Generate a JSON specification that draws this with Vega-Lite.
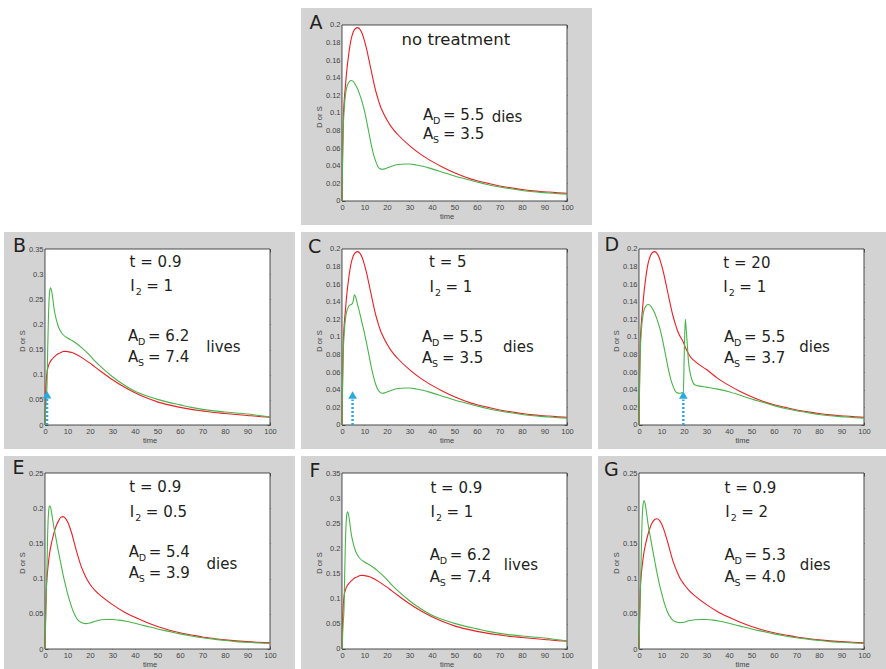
{
"$schema":"https://vega.github.io/schema/vega-lite/v6.json",
"padding":{"left":4,"top":8,"right":0,"bottom":0},
"background":"white",
"config":{
 "view":{"fill":"#d3d3d3","stroke":null},
 "axis":{"domain":false,"grid":false,"tickSize":-3,"tickColor":"#333","tickWidth":0.7,"labelFont":"Liberation Sans","labelFontSize":7.5,"labelColor":"#444","labelPadding":5,"labelFlush":false,"labelOverlap":false,"titleFont":"Liberation Sans","titleFontSize":7.5,"titleFontWeight":"normal","titleColor":"#444","titlePadding":2}
},
"datasets":{
"frame":[{"p":"A","t":0,"t2":100,"v":0,"v2":0.2},{"p":"B","t":0,"t2":100,"v":0,"v2":0.35},{"p":"C","t":0,"t2":100,"v":0,"v2":0.2},{"p":"D","t":0,"t2":100,"v":0,"v2":0.2},{"p":"E","t":0,"t2":100,"v":0,"v2":0.25},{"p":"F","t":0,"t2":100,"v":0,"v2":0.35},{"p":"G","t":0,"t2":100,"v":0,"v2":0.25}],
"arr":[{"p":"B","k":"line","t":0.9,"v":0,"v2":0.053},{"p":"B","k":"head","t":0.9,"v":0.06},{"p":"C","k":"line","t":4.7,"v":0,"v2":0.029},{"p":"C","k":"head","t":4.7,"v":0.034},{"p":"D","k":"line","t":19.7,"v":0,"v2":0.029},{"p":"D","k":"head","t":19.7,"v":0.034}],
"ann":[
{"p":"A","k":"N","t":26.5,"v":0.177,"b":"no treatment"},
{"p":"A","k":"A","t":36,"v":0.0924,"b":"A","sb":"D","r":"= 5.5"},
{"p":"A","k":"A","t":36,"v":0.0707,"b":"A","sb":"S","r":"= 3.5"},
{"p":"A","k":"P","t":66.5,"v":0.0898,"b":"dies"},
{"p":"A","k":"L","t":-14.4,"v":0.196,"b":"A"},
{"p":"B","k":"P","t":37.6,"v":0.315,"b":"t = 0.9"},
{"p":"B","k":"I","t":37.9,"v":0.267,"b":"I","sb":"2","r":"= 1"},
{"p":"B","k":"A","t":36.9,"v":0.167,"b":"A","sb":"D","r":"= 6.2"},
{"p":"B","k":"A","t":36.9,"v":0.1247,"b":"A","sb":"S","r":"= 7.4"},
{"p":"B","k":"P","t":71.7,"v":0.146,"b":"lives"},
{"p":"B","k":"L","t":-14.2,"v":0.345,"b":"B"},
{"p":"C","k":"P","t":38.7,"v":0.179,"b":"t = 5"},
{"p":"C","k":"I","t":38.9,"v":0.1516,"b":"I","sb":"2","r":"= 1"},
{"p":"C","k":"A","t":35.6,"v":0.0945,"b":"A","sb":"D","r":"= 5.5"},
{"p":"C","k":"A","t":35.6,"v":0.0703,"b":"A","sb":"S","r":"= 3.5"},
{"p":"C","k":"P","t":71.6,"v":0.0828,"b":"dies"},
{"p":"C","k":"L","t":-15.1,"v":0.196,"b":"C"},
{"p":"D","k":"P","t":37.5,"v":0.1785,"b":"t = 20"},
{"p":"D","k":"I","t":37.5,"v":0.151,"b":"I","sb":"2","r":"= 1"},
{"p":"D","k":"A","t":37.8,"v":0.0942,"b":"A","sb":"D","r":"= 5.5"},
{"p":"D","k":"A","t":37.8,"v":0.07,"b":"A","sb":"S","r":"= 3.7"},
{"p":"D","k":"P","t":71.2,"v":0.0826,"b":"dies"},
{"p":"D","k":"L","t":-15.3,"v":0.198,"b":"D"},
{"p":"E","k":"P","t":37.5,"v":0.223,"b":"t = 0.9"},
{"p":"E","k":"I","t":37.7,"v":0.187,"b":"I","sb":"2","r":"= 0.5"},
{"p":"E","k":"A","t":37.2,"v":0.13,"b":"A","sb":"D","r":"= 5.4"},
{"p":"E","k":"A","t":37.2,"v":0.1005,"b":"A","sb":"S","r":"= 3.9"},
{"p":"E","k":"P","t":71.8,"v":0.114,"b":"dies"},
{"p":"E","k":"L","t":-14.4,"v":0.248,"b":"E"},
{"p":"F","k":"P","t":39.3,"v":0.31,"b":"t = 0.9"},
{"p":"F","k":"I","t":39.3,"v":0.2627,"b":"I","sb":"2","r":"= 1"},
{"p":"F","k":"A","t":39,"v":0.176,"b":"A","sb":"D","r":"= 6.2"},
{"p":"F","k":"A","t":39,"v":0.134,"b":"A","sb":"S","r":"= 7.4"},
{"p":"F","k":"P","t":71.9,"v":0.158,"b":"lives"},
{"p":"F","k":"L","t":-14.4,"v":0.343,"b":"F"},
{"p":"G","k":"P","t":38,"v":0.221,"b":"t = 0.9"},
{"p":"G","k":"I","t":38.3,"v":0.187,"b":"I","sb":"2","r":"= 2"},
{"p":"G","k":"A","t":38,"v":0.126,"b":"A","sb":"D","r":"= 5.3"},
{"p":"G","k":"A","t":38,"v":0.0954,"b":"A","sb":"S","r":"= 4.0"},
{"p":"G","k":"P","t":71.5,"v":0.1125,"b":"dies"},
{"p":"G","k":"L","t":-15.6,"v":0.246,"b":"G"}
],
"a":[
{"s":"D","t":0,"v":0},{"s":"D","t":0.3,"v":0.06},{"s":"D","t":0.6,"v":0.095},{"s":"D","t":1,"v":0.115},{"s":"D","t":1.5,"v":0.13},{"s":"D","t":2,"v":0.145},{"s":"D","t":3,"v":0.167},{"s":"D","t":4,"v":0.183},{"s":"D","t":5,"v":0.192},{"s":"D","t":6,"v":0.196},{"s":"D","t":7,"v":0.197},{"s":"D","t":8,"v":0.195},{"s":"D","t":9,"v":0.19},{"s":"D","t":10,"v":0.182},{"s":"D","t":11,"v":0.172},{"s":"D","t":12,"v":0.16},{"s":"D","t":13,"v":0.148},{"s":"D","t":14,"v":0.136},{"s":"D","t":15,"v":0.125},{"s":"D","t":16,"v":0.116},{"s":"D","t":17,"v":0.108},{"s":"D","t":18,"v":0.102},{"s":"D","t":20,"v":0.092},{"s":"D","t":22,"v":0.084},{"s":"D","t":25,"v":0.075},{"s":"D","t":30,"v":0.063},{"s":"D","t":35,"v":0.053},{"s":"D","t":40,"v":0.045},{"s":"D","t":45,"v":0.038},{"s":"D","t":50,"v":0.032},{"s":"D","t":55,"v":0.027},{"s":"D","t":60,"v":0.023},{"s":"D","t":65,"v":0.02},{"s":"D","t":70,"v":0.017},{"s":"D","t":75,"v":0.015},{"s":"D","t":80,"v":0.013},{"s":"D","t":85,"v":0.0115},{"s":"D","t":90,"v":0.0105},{"s":"D","t":95,"v":0.0095},{"s":"D","t":100,"v":0.0088},
{"s":"S","t":0,"v":0},{"s":"S","t":0.3,"v":0.05},{"s":"S","t":0.6,"v":0.085},{"s":"S","t":1,"v":0.105},{"s":"S","t":1.5,"v":0.12},{"s":"S","t":2,"v":0.128},{"s":"S","t":3,"v":0.135},{"s":"S","t":4,"v":0.137},{"s":"S","t":5,"v":0.136},{"s":"S","t":6,"v":0.132},{"s":"S","t":7,"v":0.127},{"s":"S","t":8,"v":0.12},{"s":"S","t":9,"v":0.112},{"s":"S","t":10,"v":0.102},{"s":"S","t":11,"v":0.09},{"s":"S","t":12,"v":0.077},{"s":"S","t":13,"v":0.064},{"s":"S","t":14,"v":0.053},{"s":"S","t":15,"v":0.045},{"s":"S","t":16,"v":0.039},{"s":"S","t":17,"v":0.0365},{"s":"S","t":18,"v":0.036},{"s":"S","t":19,"v":0.0365},{"s":"S","t":20,"v":0.0375},{"s":"S","t":22,"v":0.0395},{"s":"S","t":25,"v":0.0415},{"s":"S","t":28,"v":0.042},{"s":"S","t":30,"v":0.042},{"s":"S","t":33,"v":0.041},{"s":"S","t":36,"v":0.0395},{"s":"S","t":40,"v":0.0365},{"s":"S","t":45,"v":0.0325},{"s":"S","t":50,"v":0.0285},{"s":"S","t":55,"v":0.025},{"s":"S","t":60,"v":0.0215},{"s":"S","t":65,"v":0.0185},{"s":"S","t":70,"v":0.016},{"s":"S","t":75,"v":0.014},{"s":"S","t":80,"v":0.012},{"s":"S","t":85,"v":0.0105},{"s":"S","t":90,"v":0.0095},{"s":"S","t":95,"v":0.0085},{"s":"S","t":100,"v":0.0078}
],
"cS":[
{"s":"S","t":0,"v":0},{"s":"S","t":0.3,"v":0.05},{"s":"S","t":0.6,"v":0.085},{"s":"S","t":1,"v":0.105},{"s":"S","t":1.5,"v":0.12},{"s":"S","t":2,"v":0.128},{"s":"S","t":3,"v":0.135},{"s":"S","t":4,"v":0.137},{"s":"S","t":4.6,"v":0.138},{"s":"S","t":5,"v":0.141},{"s":"S","t":5.5,"v":0.148},{"s":"S","t":6,"v":0.146},{"s":"S","t":7,"v":0.136},{"s":"S","t":8,"v":0.126},{"s":"S","t":9,"v":0.115},{"s":"S","t":10,"v":0.104},{"s":"S","t":11,"v":0.092},{"s":"S","t":12,"v":0.079},{"s":"S","t":13,"v":0.066},{"s":"S","t":14,"v":0.055},{"s":"S","t":15,"v":0.046},{"s":"S","t":16,"v":0.04},{"s":"S","t":17,"v":0.037},{"s":"S","t":18,"v":0.036},{"s":"S","t":19,"v":0.0365},{"s":"S","t":20,"v":0.0375},{"s":"S","t":22,"v":0.0395},{"s":"S","t":25,"v":0.0415},{"s":"S","t":28,"v":0.042},{"s":"S","t":30,"v":0.042},{"s":"S","t":33,"v":0.041},{"s":"S","t":36,"v":0.0395},{"s":"S","t":40,"v":0.0365},{"s":"S","t":45,"v":0.0325},{"s":"S","t":50,"v":0.0285},{"s":"S","t":55,"v":0.025},{"s":"S","t":60,"v":0.0215},{"s":"S","t":65,"v":0.0185},{"s":"S","t":70,"v":0.016},{"s":"S","t":75,"v":0.014},{"s":"S","t":80,"v":0.012},{"s":"S","t":85,"v":0.0105},{"s":"S","t":90,"v":0.0095},{"s":"S","t":95,"v":0.0085},{"s":"S","t":100,"v":0.0078}
],
"d":[
{"s":"D","t":0,"v":0},{"s":"D","t":0.3,"v":0.06},{"s":"D","t":0.6,"v":0.095},{"s":"D","t":1,"v":0.115},{"s":"D","t":1.5,"v":0.13},{"s":"D","t":2,"v":0.145},{"s":"D","t":3,"v":0.167},{"s":"D","t":4,"v":0.183},{"s":"D","t":5,"v":0.192},{"s":"D","t":6,"v":0.196},{"s":"D","t":7,"v":0.197},{"s":"D","t":8,"v":0.195},{"s":"D","t":9,"v":0.19},{"s":"D","t":10,"v":0.182},{"s":"D","t":11,"v":0.172},{"s":"D","t":12,"v":0.16},{"s":"D","t":13,"v":0.148},{"s":"D","t":14,"v":0.136},{"s":"D","t":15,"v":0.125},{"s":"D","t":16,"v":0.116},{"s":"D","t":17,"v":0.108},{"s":"D","t":18,"v":0.102},{"s":"D","t":19.7,"v":0.094},{"s":"D","t":20.5,"v":0.089},{"s":"D","t":21,"v":0.086},{"s":"D","t":22,"v":0.081},{"s":"D","t":23,"v":0.077},{"s":"D","t":25,"v":0.072},{"s":"D","t":30,"v":0.063},{"s":"D","t":35,"v":0.053},{"s":"D","t":40,"v":0.045},{"s":"D","t":45,"v":0.038},{"s":"D","t":50,"v":0.032},{"s":"D","t":55,"v":0.027},{"s":"D","t":60,"v":0.023},{"s":"D","t":65,"v":0.02},{"s":"D","t":70,"v":0.017},{"s":"D","t":75,"v":0.015},{"s":"D","t":80,"v":0.013},{"s":"D","t":85,"v":0.0115},{"s":"D","t":90,"v":0.0105},{"s":"D","t":95,"v":0.0095},{"s":"D","t":100,"v":0.0088},
{"s":"S","t":0,"v":0},{"s":"S","t":0.3,"v":0.05},{"s":"S","t":0.6,"v":0.085},{"s":"S","t":1,"v":0.105},{"s":"S","t":1.5,"v":0.12},{"s":"S","t":2,"v":0.128},{"s":"S","t":3,"v":0.135},{"s":"S","t":4,"v":0.137},{"s":"S","t":5,"v":0.136},{"s":"S","t":6,"v":0.132},{"s":"S","t":7,"v":0.127},{"s":"S","t":8,"v":0.12},{"s":"S","t":9,"v":0.112},{"s":"S","t":10,"v":0.102},{"s":"S","t":11,"v":0.09},{"s":"S","t":12,"v":0.077},{"s":"S","t":13,"v":0.064},{"s":"S","t":14,"v":0.053},{"s":"S","t":15,"v":0.045},{"s":"S","t":16,"v":0.039},{"s":"S","t":17,"v":0.0365},{"s":"S","t":18,"v":0.036},{"s":"S","t":19,"v":0.0365},{"s":"S","t":19.7,"v":0.0368},{"s":"S","t":20.1,"v":0.08},{"s":"S","t":20.6,"v":0.12},{"s":"S","t":21,"v":0.108},{"s":"S","t":21.5,"v":0.09},{"s":"S","t":22,"v":0.072},{"s":"S","t":23,"v":0.056},{"s":"S","t":24,"v":0.048},{"s":"S","t":25,"v":0.0455},{"s":"S","t":27,"v":0.0442},{"s":"S","t":30,"v":0.043},{"s":"S","t":35,"v":0.0408},{"s":"S","t":40,"v":0.0378},{"s":"S","t":45,"v":0.0338},{"s":"S","t":50,"v":0.0295},{"s":"S","t":55,"v":0.0258},{"s":"S","t":60,"v":0.022},{"s":"S","t":65,"v":0.0188},{"s":"S","t":70,"v":0.0162},{"s":"S","t":75,"v":0.014},{"s":"S","t":80,"v":0.012},{"s":"S","t":85,"v":0.0105},{"s":"S","t":90,"v":0.0095},{"s":"S","t":95,"v":0.0085},{"s":"S","t":100,"v":0.0078}
],
"bf":[
{"s":"D","t":0,"v":0},{"s":"D","t":0.3,"v":0.06},{"s":"D","t":0.6,"v":0.09},{"s":"D","t":1,"v":0.108},{"s":"D","t":1.5,"v":0.117},{"s":"D","t":2,"v":0.123},{"s":"D","t":3,"v":0.13},{"s":"D","t":4,"v":0.135},{"s":"D","t":5,"v":0.139},{"s":"D","t":6,"v":0.142},{"s":"D","t":7,"v":0.144},{"s":"D","t":8,"v":0.146},{"s":"D","t":9,"v":0.1465},{"s":"D","t":10,"v":0.146},{"s":"D","t":12,"v":0.144},{"s":"D","t":14,"v":0.14},{"s":"D","t":16,"v":0.135},{"s":"D","t":18,"v":0.129},{"s":"D","t":20,"v":0.123},{"s":"D","t":22,"v":0.116},{"s":"D","t":25,"v":0.106},{"s":"D","t":30,"v":0.09},{"s":"D","t":35,"v":0.076},{"s":"D","t":40,"v":0.064},{"s":"D","t":45,"v":0.054},{"s":"D","t":50,"v":0.046},{"s":"D","t":55,"v":0.04},{"s":"D","t":60,"v":0.035},{"s":"D","t":65,"v":0.031},{"s":"D","t":70,"v":0.028},{"s":"D","t":75,"v":0.025},{"s":"D","t":80,"v":0.023},{"s":"D","t":85,"v":0.021},{"s":"D","t":90,"v":0.019},{"s":"D","t":95,"v":0.017},{"s":"D","t":100,"v":0.0155},
{"s":"S","t":0,"v":0},{"s":"S","t":0.5,"v":0.05},{"s":"S","t":0.9,"v":0.08},{"s":"S","t":1.2,"v":0.15},{"s":"S","t":1.5,"v":0.21},{"s":"S","t":2,"v":0.262},{"s":"S","t":2.4,"v":0.273},{"s":"S","t":3,"v":0.265},{"s":"S","t":3.5,"v":0.25},{"s":"S","t":4,"v":0.232},{"s":"S","t":5,"v":0.21},{"s":"S","t":6,"v":0.195},{"s":"S","t":7,"v":0.186},{"s":"S","t":8,"v":0.18},{"s":"S","t":10,"v":0.173},{"s":"S","t":12,"v":0.168},{"s":"S","t":14,"v":0.162},{"s":"S","t":16,"v":0.155},{"s":"S","t":18,"v":0.147},{"s":"S","t":20,"v":0.138},{"s":"S","t":22,"v":0.128},{"s":"S","t":25,"v":0.115},{"s":"S","t":30,"v":0.096},{"s":"S","t":35,"v":0.08},{"s":"S","t":40,"v":0.067},{"s":"S","t":45,"v":0.058},{"s":"S","t":50,"v":0.051},{"s":"S","t":55,"v":0.045},{"s":"S","t":60,"v":0.04},{"s":"S","t":65,"v":0.035},{"s":"S","t":70,"v":0.031},{"s":"S","t":75,"v":0.028},{"s":"S","t":80,"v":0.026},{"s":"S","t":85,"v":0.024},{"s":"S","t":90,"v":0.022},{"s":"S","t":95,"v":0.019},{"s":"S","t":100,"v":0.0165}
],
"e":[
{"s":"D","t":0,"v":0},{"s":"D","t":0.3,"v":0.05},{"s":"D","t":0.6,"v":0.085},{"s":"D","t":1,"v":0.105},{"s":"D","t":1.5,"v":0.122},{"s":"D","t":2,"v":0.135},{"s":"D","t":3,"v":0.152},{"s":"D","t":4,"v":0.165},{"s":"D","t":5,"v":0.175},{"s":"D","t":6,"v":0.182},{"s":"D","t":7,"v":0.187},{"s":"D","t":8,"v":0.188},{"s":"D","t":9,"v":0.186},{"s":"D","t":10,"v":0.181},{"s":"D","t":11,"v":0.173},{"s":"D","t":12,"v":0.163},{"s":"D","t":13,"v":0.151},{"s":"D","t":14,"v":0.139},{"s":"D","t":15,"v":0.128},{"s":"D","t":16,"v":0.118},{"s":"D","t":17,"v":0.11},{"s":"D","t":18,"v":0.103},{"s":"D","t":20,"v":0.092},{"s":"D","t":22,"v":0.084},{"s":"D","t":25,"v":0.075},{"s":"D","t":30,"v":0.063},{"s":"D","t":35,"v":0.053},{"s":"D","t":40,"v":0.045},{"s":"D","t":45,"v":0.038},{"s":"D","t":50,"v":0.032},{"s":"D","t":55,"v":0.027},{"s":"D","t":60,"v":0.023},{"s":"D","t":65,"v":0.02},{"s":"D","t":70,"v":0.017},{"s":"D","t":75,"v":0.015},{"s":"D","t":80,"v":0.013},{"s":"D","t":85,"v":0.0115},{"s":"D","t":90,"v":0.0105},{"s":"D","t":95,"v":0.0095},{"s":"D","t":100,"v":0.0088},
{"s":"S","t":0,"v":0},{"s":"S","t":0.5,"v":0.07},{"s":"S","t":0.9,"v":0.12},{"s":"S","t":1.2,"v":0.165},{"s":"S","t":1.6,"v":0.195},{"s":"S","t":2,"v":0.203},{"s":"S","t":2.4,"v":0.202},{"s":"S","t":3,"v":0.192},{"s":"S","t":4,"v":0.172},{"s":"S","t":5,"v":0.155},{"s":"S","t":6,"v":0.138},{"s":"S","t":7,"v":0.122},{"s":"S","t":8,"v":0.106},{"s":"S","t":9,"v":0.092},{"s":"S","t":10,"v":0.079},{"s":"S","t":11,"v":0.068},{"s":"S","t":12,"v":0.058},{"s":"S","t":13,"v":0.05},{"s":"S","t":14,"v":0.044},{"s":"S","t":15,"v":0.04},{"s":"S","t":16,"v":0.038},{"s":"S","t":17,"v":0.0365},{"s":"S","t":18,"v":0.036},{"s":"S","t":20,"v":0.037},{"s":"S","t":22,"v":0.039},{"s":"S","t":25,"v":0.0415},{"s":"S","t":28,"v":0.042},{"s":"S","t":30,"v":0.042},{"s":"S","t":33,"v":0.041},{"s":"S","t":36,"v":0.0395},{"s":"S","t":40,"v":0.0365},{"s":"S","t":45,"v":0.0325},{"s":"S","t":50,"v":0.0285},{"s":"S","t":55,"v":0.025},{"s":"S","t":60,"v":0.0215},{"s":"S","t":65,"v":0.0185},{"s":"S","t":70,"v":0.016},{"s":"S","t":75,"v":0.014},{"s":"S","t":80,"v":0.012},{"s":"S","t":85,"v":0.0105},{"s":"S","t":90,"v":0.0095},{"s":"S","t":95,"v":0.0085},{"s":"S","t":100,"v":0.0078}
],
"g":[
{"s":"D","t":0,"v":0},{"s":"D","t":0.3,"v":0.05},{"s":"D","t":0.6,"v":0.085},{"s":"D","t":1,"v":0.105},{"s":"D","t":1.5,"v":0.12},{"s":"D","t":2,"v":0.133},{"s":"D","t":3,"v":0.15},{"s":"D","t":4,"v":0.163},{"s":"D","t":5,"v":0.173},{"s":"D","t":6,"v":0.18},{"s":"D","t":7,"v":0.184},{"s":"D","t":8,"v":0.185},{"s":"D","t":9,"v":0.183},{"s":"D","t":10,"v":0.178},{"s":"D","t":11,"v":0.17},{"s":"D","t":12,"v":0.16},{"s":"D","t":13,"v":0.149},{"s":"D","t":14,"v":0.137},{"s":"D","t":15,"v":0.126},{"s":"D","t":16,"v":0.117},{"s":"D","t":17,"v":0.109},{"s":"D","t":18,"v":0.102},{"s":"D","t":20,"v":0.092},{"s":"D","t":22,"v":0.084},{"s":"D","t":25,"v":0.075},{"s":"D","t":30,"v":0.063},{"s":"D","t":35,"v":0.053},{"s":"D","t":40,"v":0.045},{"s":"D","t":45,"v":0.038},{"s":"D","t":50,"v":0.032},{"s":"D","t":55,"v":0.027},{"s":"D","t":60,"v":0.023},{"s":"D","t":65,"v":0.02},{"s":"D","t":70,"v":0.017},{"s":"D","t":75,"v":0.015},{"s":"D","t":80,"v":0.013},{"s":"D","t":85,"v":0.0115},{"s":"D","t":90,"v":0.0105},{"s":"D","t":95,"v":0.0095},{"s":"D","t":100,"v":0.0088},
{"s":"S","t":0,"v":0},{"s":"S","t":0.5,"v":0.07},{"s":"S","t":0.9,"v":0.12},{"s":"S","t":1.3,"v":0.175},{"s":"S","t":1.8,"v":0.205},{"s":"S","t":2.3,"v":0.211},{"s":"S","t":2.8,"v":0.205},{"s":"S","t":3.5,"v":0.19},{"s":"S","t":4,"v":0.178},{"s":"S","t":5,"v":0.16},{"s":"S","t":6,"v":0.142},{"s":"S","t":7,"v":0.125},{"s":"S","t":8,"v":0.108},{"s":"S","t":9,"v":0.093},{"s":"S","t":10,"v":0.08},{"s":"S","t":11,"v":0.068},{"s":"S","t":12,"v":0.058},{"s":"S","t":13,"v":0.05},{"s":"S","t":14,"v":0.045},{"s":"S","t":15,"v":0.041},{"s":"S","t":16,"v":0.039},{"s":"S","t":17,"v":0.038},{"s":"S","t":18,"v":0.0375},{"s":"S","t":20,"v":0.038},{"s":"S","t":22,"v":0.04},{"s":"S","t":25,"v":0.0415},{"s":"S","t":28,"v":0.042},{"s":"S","t":30,"v":0.042},{"s":"S","t":33,"v":0.041},{"s":"S","t":36,"v":0.0395},{"s":"S","t":40,"v":0.0365},{"s":"S","t":45,"v":0.0325},{"s":"S","t":50,"v":0.0285},{"s":"S","t":55,"v":0.025},{"s":"S","t":60,"v":0.0215},{"s":"S","t":65,"v":0.0185},{"s":"S","t":70,"v":0.016},{"s":"S","t":75,"v":0.014},{"s":"S","t":80,"v":0.012},{"s":"S","t":85,"v":0.0105},{"s":"S","t":90,"v":0.0095},{"s":"S","t":95,"v":0.0085},{"s":"S","t":100,"v":0.0078}
]
},
"spacing":7,
"vconcat":[
{"spacing":6,"hconcat":[
 {"width":291,"height":217,"view":{"fill":"white","stroke":null},"data":{"values":[{"q":1}]},"mark":{"type":"point","opacity":0}},
 {"width":291,"height":217,
  "resolve":{"axis":{"x":"independent","y":"independent"}},
  "encoding":{
   "x":{"field":"t","type":"quantitative","scale":{"domain":[-18.222,111.111],"nice":false,"zero":false},"axis":null},
   "y":{"field":"v","type":"quantitative","scale":{"domain":[-0.027273,0.219318],"nice":false,"zero":false},"axis":null}
  },
  "layer":[
   {"data":{"name":"frame"},"transform":[{"filter":"datum.p=='A'"}],"mark":{"type":"rect","fill":"white","stroke":"#222","strokeWidth":0.8},"encoding":{"x":{"field":"t","type":"quantitative","axis":{"orient":"bottom","offset":-24,"values":[0,10,20,30,40,50,60,70,80,90,100],"format":"d","title":"time"}},"y":{"field":"v","type":"quantitative","axis":{"orient":"left","offset":-41,"values":[0,0.02,0.04,0.06,0.08,0.1,0.12,0.14,0.16,0.18,0.2],"format":"~g","title":"D or S"}},"x2":{"field":"t2"},"y2":{"field":"v2"}}},
   {"data":{"name":"frame"},"transform":[{"filter":"datum.p=='A'"}],"mark":{"type":"rect","opacity":0},"encoding":{"x":{"field":"t","type":"quantitative","axis":{"orient":"top","offset":-17,"values":[0,10,20,30,40,50,60,70,80,90,100],"labels":false,"title":null}},"y":{"field":"v","type":"quantitative","axis":{"orient":"right","offset":-25,"values":[0,0.02,0.04,0.06,0.08,0.1,0.12,0.14,0.16,0.18,0.2],"labels":false,"title":null}},"x2":{"field":"t2"},"y2":{"field":"v2"}}},
   {"data":{"name":"a"},"mark":{"type":"line","strokeWidth":1.1,"interpolate":"monotone"},"encoding":{"color":{"field":"s","type":"nominal","scale":{"domain":["D","S"],"range":["#ee1d23","#47b549"]},"legend":null}}},
   {"data":{"name":"ann"},"transform":[{"filter":"datum.p=='A' && (datum.k=='P' || datum.k=='A' || datum.k=='I')"}],"mark":{"type":"text","align":"left","baseline":"alphabetic","font":"DejaVu Sans","fontSize":15,"color":"#231f20"},"encoding":{"text":{"field":"b","type":"nominal"}}},
   {"data":{"name":"ann"},"transform":[{"filter":"datum.p=='A' && datum.k=='A'"}],"mark":{"type":"text","align":"left","baseline":"alphabetic","font":"DejaVu Sans","fontSize":9.5,"dx":10,"dy":4,"color":"#231f20"},"encoding":{"text":{"field":"sb","type":"nominal"}}},
   {"data":{"name":"ann"},"transform":[{"filter":"datum.p=='A' && datum.k=='A'"}],"mark":{"type":"text","align":"left","baseline":"alphabetic","font":"DejaVu Sans","fontSize":15,"dx":20,"color":"#231f20"},"encoding":{"text":{"field":"r","type":"nominal"}}},
   {"data":{"name":"ann"},"transform":[{"filter":"datum.p=='A' && datum.k=='N'"}],"mark":{"type":"text","align":"left","baseline":"alphabetic","font":"DejaVu Sans","fontSize":16.5,"color":"#231f20"},"encoding":{"text":{"field":"b","type":"nominal"}}},
   {"data":{"name":"ann"},"transform":[{"filter":"datum.p=='A' && datum.k=='L'"}],"mark":{"type":"text","align":"left","baseline":"alphabetic","font":"DejaVu Sans","fontSize":19,"color":"#231f20"},"encoding":{"text":{"field":"b","type":"nominal"}}}
  ]
 }
]},
{"spacing":6,"hconcat":[
 {"width":291,"height":217,
  "resolve":{"axis":{"x":"independent","y":"independent"}},
  "encoding":{
   "x":{"field":"t","type":"quantitative","scale":{"domain":[-18.222,111.111],"nice":false,"zero":false},"axis":null},
   "y":{"field":"v","type":"quantitative","scale":{"domain":[-0.047727,0.383807],"nice":false,"zero":false},"axis":null}
  },
  "layer":[
   {"data":{"name":"frame"},"transform":[{"filter":"datum.p=='B'"}],"mark":{"type":"rect","fill":"white","stroke":"#222","strokeWidth":0.8},"encoding":{"x":{"field":"t","type":"quantitative","axis":{"orient":"bottom","offset":-24,"values":[0,10,20,30,40,50,60,70,80,90,100],"format":"d","title":"time"}},"y":{"field":"v","type":"quantitative","axis":{"orient":"left","offset":-41,"values":[0,0.05,0.1,0.15,0.2,0.25,0.3,0.35],"format":"~g","title":"D or S"}},"x2":{"field":"t2"},"y2":{"field":"v2"}}},
   {"data":{"name":"frame"},"transform":[{"filter":"datum.p=='B'"}],"mark":{"type":"rect","opacity":0},"encoding":{"x":{"field":"t","type":"quantitative","axis":{"orient":"top","offset":-17,"values":[0,10,20,30,40,50,60,70,80,90,100],"labels":false,"title":null}},"y":{"field":"v","type":"quantitative","axis":{"orient":"right","offset":-25,"values":[0,0.05,0.1,0.15,0.2,0.25,0.3,0.35],"labels":false,"title":null}},"x2":{"field":"t2"},"y2":{"field":"v2"}}},
   {"data":{"name":"bf"},"mark":{"type":"line","strokeWidth":1.1,"interpolate":"monotone"},"encoding":{"color":{"field":"s","type":"nominal","scale":{"domain":["D","S"],"range":["#ee1d23","#47b549"]},"legend":null}}},
   {"data":{"name":"arr"},"transform":[{"filter":"datum.p=='B' && datum.k=='line'"}],"mark":{"type":"rule","color":"#29abe2","strokeWidth":2.5,"strokeDash":[2,2]},"encoding":{"y2":{"field":"v2"}}},
   {"data":{"name":"arr"},"transform":[{"filter":"datum.p=='B' && datum.k=='head'"}],"mark":{"type":"point","shape":"triangle-up","filled":true,"color":"#29abe2","size":75,"opacity":1}},
   {"data":{"name":"ann"},"transform":[{"filter":"datum.p=='B' && (datum.k=='P' || datum.k=='A' || datum.k=='I')"}],"mark":{"type":"text","align":"left","baseline":"alphabetic","font":"DejaVu Sans","fontSize":15,"color":"#231f20"},"encoding":{"text":{"field":"b","type":"nominal"}}},
   {"data":{"name":"ann"},"transform":[{"filter":"datum.p=='B' && datum.k=='A'"}],"mark":{"type":"text","align":"left","baseline":"alphabetic","font":"DejaVu Sans","fontSize":9.5,"dx":10,"dy":4,"color":"#231f20"},"encoding":{"text":{"field":"sb","type":"nominal"}}},
   {"data":{"name":"ann"},"transform":[{"filter":"datum.p=='B' && datum.k=='A'"}],"mark":{"type":"text","align":"left","baseline":"alphabetic","font":"DejaVu Sans","fontSize":15,"dx":20,"color":"#231f20"},"encoding":{"text":{"field":"r","type":"nominal"}}},
   {"data":{"name":"ann"},"transform":[{"filter":"datum.p=='B' && datum.k=='I'"}],"mark":{"type":"text","align":"left","baseline":"alphabetic","font":"DejaVu Sans","fontSize":9.5,"dx":5.5,"dy":4,"color":"#231f20"},"encoding":{"text":{"field":"sb","type":"nominal"}}},
   {"data":{"name":"ann"},"transform":[{"filter":"datum.p=='B' && datum.k=='I'"}],"mark":{"type":"text","align":"left","baseline":"alphabetic","font":"DejaVu Sans","fontSize":15,"dx":16,"color":"#231f20"},"encoding":{"text":{"field":"r","type":"nominal"}}},
   {"data":{"name":"ann"},"transform":[{"filter":"datum.p=='B' && datum.k=='L'"}],"mark":{"type":"text","align":"left","baseline":"alphabetic","font":"DejaVu Sans","fontSize":19,"color":"#231f20"},"encoding":{"text":{"field":"b","type":"nominal"}}}
  ]
 },
 {"width":291,"height":217,
  "resolve":{"axis":{"x":"independent","y":"independent"}},
  "encoding":{
   "x":{"field":"t","type":"quantitative","scale":{"domain":[-18.222,111.111],"nice":false,"zero":false},"axis":null},
   "y":{"field":"v","type":"quantitative","scale":{"domain":[-0.027273,0.219318],"nice":false,"zero":false},"axis":null}
  },
  "layer":[
   {"data":{"name":"frame"},"transform":[{"filter":"datum.p=='C'"}],"mark":{"type":"rect","fill":"white","stroke":"#222","strokeWidth":0.8},"encoding":{"x":{"field":"t","type":"quantitative","axis":{"orient":"bottom","offset":-24,"values":[0,10,20,30,40,50,60,70,80,90,100],"format":"d","title":"time"}},"y":{"field":"v","type":"quantitative","axis":{"orient":"left","offset":-41,"values":[0,0.02,0.04,0.06,0.08,0.1,0.12,0.14,0.16,0.18,0.2],"format":"~g","title":"D or S"}},"x2":{"field":"t2"},"y2":{"field":"v2"}}},
   {"data":{"name":"frame"},"transform":[{"filter":"datum.p=='C'"}],"mark":{"type":"rect","opacity":0},"encoding":{"x":{"field":"t","type":"quantitative","axis":{"orient":"top","offset":-17,"values":[0,10,20,30,40,50,60,70,80,90,100],"labels":false,"title":null}},"y":{"field":"v","type":"quantitative","axis":{"orient":"right","offset":-25,"values":[0,0.02,0.04,0.06,0.08,0.1,0.12,0.14,0.16,0.18,0.2],"labels":false,"title":null}},"x2":{"field":"t2"},"y2":{"field":"v2"}}},
   {"data":{"name":"a"},"transform":[{"filter":"datum.s=='D'"}],"mark":{"type":"line","strokeWidth":1.1,"interpolate":"monotone"},"encoding":{"color":{"field":"s","type":"nominal","scale":{"domain":["D","S"],"range":["#ee1d23","#47b549"]},"legend":null}}},
   {"data":{"name":"cS"},"mark":{"type":"line","strokeWidth":1.1,"interpolate":"monotone"},"encoding":{"color":{"field":"s","type":"nominal","scale":{"domain":["D","S"],"range":["#ee1d23","#47b549"]},"legend":null}}},
   {"data":{"name":"arr"},"transform":[{"filter":"datum.p=='C' && datum.k=='line'"}],"mark":{"type":"rule","color":"#29abe2","strokeWidth":2.5,"strokeDash":[2,2]},"encoding":{"y2":{"field":"v2"}}},
   {"data":{"name":"arr"},"transform":[{"filter":"datum.p=='C' && datum.k=='head'"}],"mark":{"type":"point","shape":"triangle-up","filled":true,"color":"#29abe2","size":75,"opacity":1}},
   {"data":{"name":"ann"},"transform":[{"filter":"datum.p=='C' && (datum.k=='P' || datum.k=='A' || datum.k=='I')"}],"mark":{"type":"text","align":"left","baseline":"alphabetic","font":"DejaVu Sans","fontSize":15,"color":"#231f20"},"encoding":{"text":{"field":"b","type":"nominal"}}},
   {"data":{"name":"ann"},"transform":[{"filter":"datum.p=='C' && datum.k=='A'"}],"mark":{"type":"text","align":"left","baseline":"alphabetic","font":"DejaVu Sans","fontSize":9.5,"dx":10,"dy":4,"color":"#231f20"},"encoding":{"text":{"field":"sb","type":"nominal"}}},
   {"data":{"name":"ann"},"transform":[{"filter":"datum.p=='C' && datum.k=='A'"}],"mark":{"type":"text","align":"left","baseline":"alphabetic","font":"DejaVu Sans","fontSize":15,"dx":20,"color":"#231f20"},"encoding":{"text":{"field":"r","type":"nominal"}}},
   {"data":{"name":"ann"},"transform":[{"filter":"datum.p=='C' && datum.k=='I'"}],"mark":{"type":"text","align":"left","baseline":"alphabetic","font":"DejaVu Sans","fontSize":9.5,"dx":5.5,"dy":4,"color":"#231f20"},"encoding":{"text":{"field":"sb","type":"nominal"}}},
   {"data":{"name":"ann"},"transform":[{"filter":"datum.p=='C' && datum.k=='I'"}],"mark":{"type":"text","align":"left","baseline":"alphabetic","font":"DejaVu Sans","fontSize":15,"dx":16,"color":"#231f20"},"encoding":{"text":{"field":"r","type":"nominal"}}},
   {"data":{"name":"ann"},"transform":[{"filter":"datum.p=='C' && datum.k=='L'"}],"mark":{"type":"text","align":"left","baseline":"alphabetic","font":"DejaVu Sans","fontSize":19,"color":"#231f20"},"encoding":{"text":{"field":"b","type":"nominal"}}}
  ]
 },
 {"width":288,"height":217,
  "resolve":{"axis":{"x":"independent","y":"independent"}},
  "encoding":{
   "x":{"field":"t","type":"quantitative","scale":{"domain":[-18.222,109.778],"nice":false,"zero":false},"axis":null},
   "y":{"field":"v","type":"quantitative","scale":{"domain":[-0.027273,0.219318],"nice":false,"zero":false},"axis":null}
  },
  "layer":[
   {"data":{"name":"frame"},"transform":[{"filter":"datum.p=='D'"}],"mark":{"type":"rect","fill":"white","stroke":"#222","strokeWidth":0.8},"encoding":{"x":{"field":"t","type":"quantitative","axis":{"orient":"bottom","offset":-24,"values":[0,10,20,30,40,50,60,70,80,90,100],"format":"d","title":"time"}},"y":{"field":"v","type":"quantitative","axis":{"orient":"left","offset":-41,"values":[0,0.02,0.04,0.06,0.08,0.1,0.12,0.14,0.16,0.18,0.2],"format":"~g","title":"D or S"}},"x2":{"field":"t2"},"y2":{"field":"v2"}}},
   {"data":{"name":"frame"},"transform":[{"filter":"datum.p=='D'"}],"mark":{"type":"rect","opacity":0},"encoding":{"x":{"field":"t","type":"quantitative","axis":{"orient":"top","offset":-17,"values":[0,10,20,30,40,50,60,70,80,90,100],"labels":false,"title":null}},"y":{"field":"v","type":"quantitative","axis":{"orient":"right","offset":-22,"values":[0,0.02,0.04,0.06,0.08,0.1,0.12,0.14,0.16,0.18,0.2],"labels":false,"title":null}},"x2":{"field":"t2"},"y2":{"field":"v2"}}},
   {"data":{"name":"d"},"mark":{"type":"line","strokeWidth":1.1,"interpolate":"monotone"},"encoding":{"color":{"field":"s","type":"nominal","scale":{"domain":["D","S"],"range":["#ee1d23","#47b549"]},"legend":null}}},
   {"data":{"name":"arr"},"transform":[{"filter":"datum.p=='D' && datum.k=='line'"}],"mark":{"type":"rule","color":"#29abe2","strokeWidth":2.5,"strokeDash":[2,2]},"encoding":{"y2":{"field":"v2"}}},
   {"data":{"name":"arr"},"transform":[{"filter":"datum.p=='D' && datum.k=='head'"}],"mark":{"type":"point","shape":"triangle-up","filled":true,"color":"#29abe2","size":75,"opacity":1}},
   {"data":{"name":"ann"},"transform":[{"filter":"datum.p=='D' && (datum.k=='P' || datum.k=='A' || datum.k=='I')"}],"mark":{"type":"text","align":"left","baseline":"alphabetic","font":"DejaVu Sans","fontSize":15,"color":"#231f20"},"encoding":{"text":{"field":"b","type":"nominal"}}},
   {"data":{"name":"ann"},"transform":[{"filter":"datum.p=='D' && datum.k=='A'"}],"mark":{"type":"text","align":"left","baseline":"alphabetic","font":"DejaVu Sans","fontSize":9.5,"dx":10,"dy":4,"color":"#231f20"},"encoding":{"text":{"field":"sb","type":"nominal"}}},
   {"data":{"name":"ann"},"transform":[{"filter":"datum.p=='D' && datum.k=='A'"}],"mark":{"type":"text","align":"left","baseline":"alphabetic","font":"DejaVu Sans","fontSize":15,"dx":20,"color":"#231f20"},"encoding":{"text":{"field":"r","type":"nominal"}}},
   {"data":{"name":"ann"},"transform":[{"filter":"datum.p=='D' && datum.k=='I'"}],"mark":{"type":"text","align":"left","baseline":"alphabetic","font":"DejaVu Sans","fontSize":9.5,"dx":5.5,"dy":4,"color":"#231f20"},"encoding":{"text":{"field":"sb","type":"nominal"}}},
   {"data":{"name":"ann"},"transform":[{"filter":"datum.p=='D' && datum.k=='I'"}],"mark":{"type":"text","align":"left","baseline":"alphabetic","font":"DejaVu Sans","fontSize":15,"dx":16,"color":"#231f20"},"encoding":{"text":{"field":"r","type":"nominal"}}},
   {"data":{"name":"ann"},"transform":[{"filter":"datum.p=='D' && datum.k=='L'"}],"mark":{"type":"text","align":"left","baseline":"alphabetic","font":"DejaVu Sans","fontSize":19,"color":"#231f20"},"encoding":{"text":{"field":"b","type":"nominal"}}}
  ]
 }
]},
{"spacing":6,"hconcat":[
 {"width":291,"height":213,
  "resolve":{"axis":{"x":"independent","y":"independent"}},
  "encoding":{
   "x":{"field":"t","type":"quantitative","scale":{"domain":[-18.222,111.111],"nice":false,"zero":false},"axis":null},
   "y":{"field":"v","type":"quantitative","scale":{"domain":[-0.028409,0.274148],"nice":false,"zero":false},"axis":null}
  },
  "layer":[
   {"data":{"name":"frame"},"transform":[{"filter":"datum.p=='E'"}],"mark":{"type":"rect","fill":"white","stroke":"#222","strokeWidth":0.8},"encoding":{"x":{"field":"t","type":"quantitative","axis":{"orient":"bottom","offset":-20,"values":[0,10,20,30,40,50,60,70,80,90,100],"format":"d","title":"time"}},"y":{"field":"v","type":"quantitative","axis":{"orient":"left","offset":-41,"values":[0,0.05,0.1,0.15,0.2,0.25],"format":"~g","title":"D or S"}},"x2":{"field":"t2"},"y2":{"field":"v2"}}},
   {"data":{"name":"frame"},"transform":[{"filter":"datum.p=='E'"}],"mark":{"type":"rect","opacity":0},"encoding":{"x":{"field":"t","type":"quantitative","axis":{"orient":"top","offset":-17,"values":[0,10,20,30,40,50,60,70,80,90,100],"labels":false,"title":null}},"y":{"field":"v","type":"quantitative","axis":{"orient":"right","offset":-25,"values":[0,0.05,0.1,0.15,0.2,0.25],"labels":false,"title":null}},"x2":{"field":"t2"},"y2":{"field":"v2"}}},
   {"data":{"name":"e"},"mark":{"type":"line","strokeWidth":1.1,"interpolate":"monotone"},"encoding":{"color":{"field":"s","type":"nominal","scale":{"domain":["D","S"],"range":["#ee1d23","#47b549"]},"legend":null}}},
   {"data":{"name":"ann"},"transform":[{"filter":"datum.p=='E' && (datum.k=='P' || datum.k=='A' || datum.k=='I')"}],"mark":{"type":"text","align":"left","baseline":"alphabetic","font":"DejaVu Sans","fontSize":15,"color":"#231f20"},"encoding":{"text":{"field":"b","type":"nominal"}}},
   {"data":{"name":"ann"},"transform":[{"filter":"datum.p=='E' && datum.k=='A'"}],"mark":{"type":"text","align":"left","baseline":"alphabetic","font":"DejaVu Sans","fontSize":9.5,"dx":10,"dy":4,"color":"#231f20"},"encoding":{"text":{"field":"sb","type":"nominal"}}},
   {"data":{"name":"ann"},"transform":[{"filter":"datum.p=='E' && datum.k=='A'"}],"mark":{"type":"text","align":"left","baseline":"alphabetic","font":"DejaVu Sans","fontSize":15,"dx":20,"color":"#231f20"},"encoding":{"text":{"field":"r","type":"nominal"}}},
   {"data":{"name":"ann"},"transform":[{"filter":"datum.p=='E' && datum.k=='I'"}],"mark":{"type":"text","align":"left","baseline":"alphabetic","font":"DejaVu Sans","fontSize":9.5,"dx":5.5,"dy":4,"color":"#231f20"},"encoding":{"text":{"field":"sb","type":"nominal"}}},
   {"data":{"name":"ann"},"transform":[{"filter":"datum.p=='E' && datum.k=='I'"}],"mark":{"type":"text","align":"left","baseline":"alphabetic","font":"DejaVu Sans","fontSize":15,"dx":16,"color":"#231f20"},"encoding":{"text":{"field":"r","type":"nominal"}}},
   {"data":{"name":"ann"},"transform":[{"filter":"datum.p=='E' && datum.k=='L'"}],"mark":{"type":"text","align":"left","baseline":"alphabetic","font":"DejaVu Sans","fontSize":19,"color":"#231f20"},"encoding":{"text":{"field":"b","type":"nominal"}}}
  ]
 },
 {"width":291,"height":213,
  "resolve":{"axis":{"x":"independent","y":"independent"}},
  "encoding":{
   "x":{"field":"t","type":"quantitative","scale":{"domain":[-18.222,111.111],"nice":false,"zero":false},"axis":null},
   "y":{"field":"v","type":"quantitative","scale":{"domain":[-0.039773,0.383807],"nice":false,"zero":false},"axis":null}
  },
  "layer":[
   {"data":{"name":"frame"},"transform":[{"filter":"datum.p=='F'"}],"mark":{"type":"rect","fill":"white","stroke":"#222","strokeWidth":0.8},"encoding":{"x":{"field":"t","type":"quantitative","axis":{"orient":"bottom","offset":-20,"values":[0,10,20,30,40,50,60,70,80,90,100],"format":"d","title":"time"}},"y":{"field":"v","type":"quantitative","axis":{"orient":"left","offset":-41,"values":[0,0.05,0.1,0.15,0.2,0.25,0.3,0.35],"format":"~g","title":"D or S"}},"x2":{"field":"t2"},"y2":{"field":"v2"}}},
   {"data":{"name":"frame"},"transform":[{"filter":"datum.p=='F'"}],"mark":{"type":"rect","opacity":0},"encoding":{"x":{"field":"t","type":"quantitative","axis":{"orient":"top","offset":-17,"values":[0,10,20,30,40,50,60,70,80,90,100],"labels":false,"title":null}},"y":{"field":"v","type":"quantitative","axis":{"orient":"right","offset":-25,"values":[0,0.05,0.1,0.15,0.2,0.25,0.3,0.35],"labels":false,"title":null}},"x2":{"field":"t2"},"y2":{"field":"v2"}}},
   {"data":{"name":"bf"},"mark":{"type":"line","strokeWidth":1.1,"interpolate":"monotone"},"encoding":{"color":{"field":"s","type":"nominal","scale":{"domain":["D","S"],"range":["#ee1d23","#47b549"]},"legend":null}}},
   {"data":{"name":"ann"},"transform":[{"filter":"datum.p=='F' && (datum.k=='P' || datum.k=='A' || datum.k=='I')"}],"mark":{"type":"text","align":"left","baseline":"alphabetic","font":"DejaVu Sans","fontSize":15,"color":"#231f20"},"encoding":{"text":{"field":"b","type":"nominal"}}},
   {"data":{"name":"ann"},"transform":[{"filter":"datum.p=='F' && datum.k=='A'"}],"mark":{"type":"text","align":"left","baseline":"alphabetic","font":"DejaVu Sans","fontSize":9.5,"dx":10,"dy":4,"color":"#231f20"},"encoding":{"text":{"field":"sb","type":"nominal"}}},
   {"data":{"name":"ann"},"transform":[{"filter":"datum.p=='F' && datum.k=='A'"}],"mark":{"type":"text","align":"left","baseline":"alphabetic","font":"DejaVu Sans","fontSize":15,"dx":20,"color":"#231f20"},"encoding":{"text":{"field":"r","type":"nominal"}}},
   {"data":{"name":"ann"},"transform":[{"filter":"datum.p=='F' && datum.k=='I'"}],"mark":{"type":"text","align":"left","baseline":"alphabetic","font":"DejaVu Sans","fontSize":9.5,"dx":5.5,"dy":4,"color":"#231f20"},"encoding":{"text":{"field":"sb","type":"nominal"}}},
   {"data":{"name":"ann"},"transform":[{"filter":"datum.p=='F' && datum.k=='I'"}],"mark":{"type":"text","align":"left","baseline":"alphabetic","font":"DejaVu Sans","fontSize":15,"dx":16,"color":"#231f20"},"encoding":{"text":{"field":"r","type":"nominal"}}},
   {"data":{"name":"ann"},"transform":[{"filter":"datum.p=='F' && datum.k=='L'"}],"mark":{"type":"text","align":"left","baseline":"alphabetic","font":"DejaVu Sans","fontSize":19,"color":"#231f20"},"encoding":{"text":{"field":"b","type":"nominal"}}}
  ]
 },
 {"width":288,"height":213,
  "resolve":{"axis":{"x":"independent","y":"independent"}},
  "encoding":{
   "x":{"field":"t","type":"quantitative","scale":{"domain":[-18.222,109.778],"nice":false,"zero":false},"axis":null},
   "y":{"field":"v","type":"quantitative","scale":{"domain":[-0.028409,0.274148],"nice":false,"zero":false},"axis":null}
  },
  "layer":[
   {"data":{"name":"frame"},"transform":[{"filter":"datum.p=='G'"}],"mark":{"type":"rect","fill":"white","stroke":"#222","strokeWidth":0.8},"encoding":{"x":{"field":"t","type":"quantitative","axis":{"orient":"bottom","offset":-20,"values":[0,10,20,30,40,50,60,70,80,90,100],"format":"d","title":"time"}},"y":{"field":"v","type":"quantitative","axis":{"orient":"left","offset":-41,"values":[0,0.05,0.1,0.15,0.2,0.25],"format":"~g","title":"D or S"}},"x2":{"field":"t2"},"y2":{"field":"v2"}}},
   {"data":{"name":"frame"},"transform":[{"filter":"datum.p=='G'"}],"mark":{"type":"rect","opacity":0},"encoding":{"x":{"field":"t","type":"quantitative","axis":{"orient":"top","offset":-17,"values":[0,10,20,30,40,50,60,70,80,90,100],"labels":false,"title":null}},"y":{"field":"v","type":"quantitative","axis":{"orient":"right","offset":-22,"values":[0,0.05,0.1,0.15,0.2,0.25],"labels":false,"title":null}},"x2":{"field":"t2"},"y2":{"field":"v2"}}},
   {"data":{"name":"g"},"mark":{"type":"line","strokeWidth":1.1,"interpolate":"monotone"},"encoding":{"color":{"field":"s","type":"nominal","scale":{"domain":["D","S"],"range":["#ee1d23","#47b549"]},"legend":null}}},
   {"data":{"name":"ann"},"transform":[{"filter":"datum.p=='G' && (datum.k=='P' || datum.k=='A' || datum.k=='I')"}],"mark":{"type":"text","align":"left","baseline":"alphabetic","font":"DejaVu Sans","fontSize":15,"color":"#231f20"},"encoding":{"text":{"field":"b","type":"nominal"}}},
   {"data":{"name":"ann"},"transform":[{"filter":"datum.p=='G' && datum.k=='A'"}],"mark":{"type":"text","align":"left","baseline":"alphabetic","font":"DejaVu Sans","fontSize":9.5,"dx":10,"dy":4,"color":"#231f20"},"encoding":{"text":{"field":"sb","type":"nominal"}}},
   {"data":{"name":"ann"},"transform":[{"filter":"datum.p=='G' && datum.k=='A'"}],"mark":{"type":"text","align":"left","baseline":"alphabetic","font":"DejaVu Sans","fontSize":15,"dx":20,"color":"#231f20"},"encoding":{"text":{"field":"r","type":"nominal"}}},
   {"data":{"name":"ann"},"transform":[{"filter":"datum.p=='G' && datum.k=='I'"}],"mark":{"type":"text","align":"left","baseline":"alphabetic","font":"DejaVu Sans","fontSize":9.5,"dx":5.5,"dy":4,"color":"#231f20"},"encoding":{"text":{"field":"sb","type":"nominal"}}},
   {"data":{"name":"ann"},"transform":[{"filter":"datum.p=='G' && datum.k=='I'"}],"mark":{"type":"text","align":"left","baseline":"alphabetic","font":"DejaVu Sans","fontSize":15,"dx":16,"color":"#231f20"},"encoding":{"text":{"field":"r","type":"nominal"}}},
   {"data":{"name":"ann"},"transform":[{"filter":"datum.p=='G' && datum.k=='L'"}],"mark":{"type":"text","align":"left","baseline":"alphabetic","font":"DejaVu Sans","fontSize":19,"color":"#231f20"},"encoding":{"text":{"field":"b","type":"nominal"}}}
  ]
 }
]}
]
}
